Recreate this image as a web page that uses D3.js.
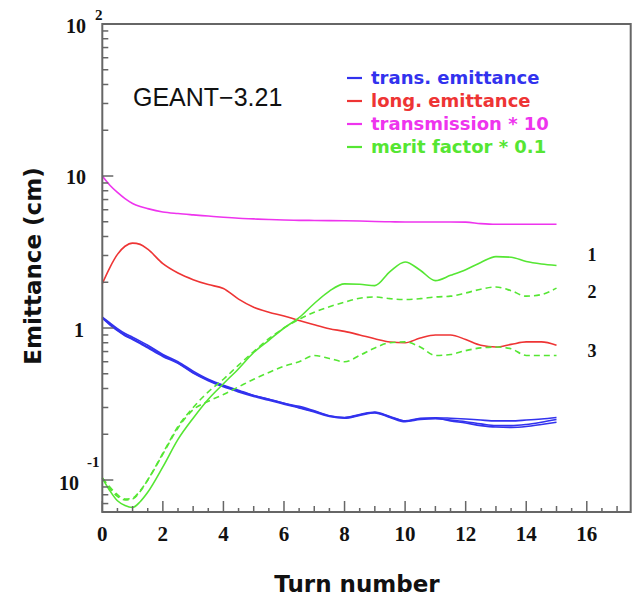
<!DOCTYPE html>
<html>
<head>
<meta charset="utf-8">
<script src="https://cdn.jsdelivr.net/npm/d3@7"></script>
<style>
  html, body { margin: 0; padding: 0; background: #fff; }
  svg { display: block; }
</style>
</head>
<body>
<svg id="chart" width="636" height="603"></svg>
<script>
// Turn numbers at which each quantity is sampled
const turns = [0, 0.25, 0.5, 0.75, 1, 1.25, 1.5, 2, 2.5, 3, 3.5, 4, 4.5, 5, 5.5, 6, 6.5, 7, 7.5, 8,
               8.5, 9, 9.5, 10, 10.5, 11, 11.5, 12, 12.5, 13, 13.5, 14, 14.5, 15];

// transverse emittance (cm), three runs
const transEmit1 = [1.18, 1.08, 0.99, 0.92, 0.87, 0.82, 0.77, 0.67, 0.6, 0.52, 0.46, 0.42, 0.39, 0.36, 0.34, 0.32,
                    0.305, 0.285, 0.265, 0.258, 0.27, 0.28, 0.262, 0.245, 0.255, 0.257, 0.255, 0.252, 0.248, 0.245, 0.245, 0.248, 0.252, 0.258];
const transEmit2 = [1.17, 1.06, 0.97, 0.9, 0.85, 0.8, 0.75, 0.66, 0.59, 0.51, 0.455, 0.415, 0.385, 0.36, 0.34, 0.32,
                    0.3, 0.283, 0.264, 0.257, 0.268, 0.278, 0.26, 0.244, 0.253, 0.255, 0.245, 0.237, 0.228, 0.223, 0.222, 0.225, 0.232, 0.24];
const transEmit3 = [1.16, 1.05, 0.96, 0.89, 0.84, 0.79, 0.74, 0.65, 0.585, 0.505, 0.45, 0.41, 0.38, 0.355, 0.335, 0.315,
                    0.298, 0.28, 0.262, 0.255, 0.266, 0.276, 0.258, 0.242, 0.25, 0.253, 0.248, 0.242, 0.234, 0.228, 0.228, 0.232, 0.24, 0.25];

// longitudinal emittance (cm)
const longEmit = [1.96, 2.5, 3.05, 3.45, 3.62, 3.55, 3.3, 2.65, 2.3, 2.08, 1.93, 1.82, 1.55, 1.37, 1.27, 1.2,
                  1.12, 1.05, 0.99, 0.95, 0.9, 0.85, 0.81, 0.8, 0.86, 0.9, 0.9, 0.84, 0.77, 0.75, 0.78, 0.81, 0.81, 0.77];

// transmission * 10
const transmission = [10, 8.7, 7.8, 7.1, 6.6, 6.3, 6.1, 5.8, 5.66, 5.55, 5.45, 5.35, 5.27, 5.22, 5.17, 5.13,
                      5.11, 5.1, 5.09, 5.08, 5.06, 5.02, 5.0, 4.98, 4.98, 4.98, 4.98, 4.97, 4.86, 4.81, 4.81, 4.81, 4.81, 4.81];

// merit factor * 0.1, runs 1 (solid), 2 and 3 (dashed)
const merit1 = [0.103, 0.085, 0.073, 0.068, 0.066, 0.072, 0.083, 0.122, 0.185, 0.255, 0.34, 0.43, 0.54, 0.69, 0.83, 1.0,
                1.17, 1.45, 1.75, 1.95, 1.94, 1.9, 2.35, 2.72, 2.4, 2.05, 2.22, 2.42, 2.7, 2.95, 2.92, 2.74, 2.64, 2.58];
const merit2 = [0.103, 0.088, 0.078, 0.074, 0.075, 0.084, 0.1, 0.15, 0.225, 0.3, 0.38, 0.46, 0.57, 0.7, 0.85, 1.0,
                1.14, 1.27, 1.38, 1.48, 1.57, 1.6, 1.56, 1.54, 1.56, 1.6, 1.62, 1.7, 1.8, 1.86, 1.76, 1.62, 1.66, 1.83];
const merit3 = [0.103, 0.09, 0.08, 0.075, 0.076, 0.085, 0.1, 0.148, 0.22, 0.29, 0.33, 0.365, 0.41, 0.46, 0.51, 0.56,
                0.6, 0.66, 0.63, 0.6, 0.66, 0.74, 0.8, 0.81, 0.75, 0.66, 0.67, 0.71, 0.74, 0.75, 0.73, 0.66, 0.66, 0.66];

const legendLabels = ["trans. emittance", "long. emittance", "transmission * 10", "merit factor * 0.1"];
const legendColors = ["#3232ee", "#ee3434", "#ee34ee", "#55e633"];
const xTickLabels = [0, 2, 4, 6, 8, 10, 12, 14, 16];
const runLabels = ["1", "2", "3"];

const svg = d3.select("#chart");
const frameL = 102.3, frameR = 630.7, frameT = 24, frameB = 512;

const x = d3.scaleLinear().domain([0, 17.45]).range([frameL, frameR]);
const y = d3.scaleLog().domain([0.0616, 100]).range([frameB, frameT]);

const line = d3.line()
  .x((d, i) => x(turns[i]))
  .y(d => y(d))
  .curve(d3.curveMonotoneX);

const series = [
  { v: transmission, c: legendColors[2] },
  { v: longEmit, c: legendColors[1] },
  { v: transEmit1, c: legendColors[0] },
  { v: transEmit2, c: legendColors[0] },
  { v: transEmit3, c: legendColors[0] },
  { v: merit1, c: legendColors[3] },
  { v: merit2, c: legendColors[3], dash: "6,4" },
  { v: merit3, c: legendColors[3], dash: "6,4" }
];

const plot = svg.append("g");
series.forEach(s => {
  plot.append("path")
    .attr("d", line(s.v))
    .attr("fill", "none")
    .attr("stroke", s.c)
    .attr("stroke-width", 1.6)
    .attr("stroke-dasharray", s.dash || null);
});

// frame
const axisColor = "#666";
svg.append("rect")
  .attr("x", frameL).attr("y", frameT)
  .attr("width", frameR - frameL).attr("height", frameB - frameT)
  .attr("fill", "none").attr("stroke", axisColor).attr("stroke-width", 2);

// x ticks (inward)
const xt = svg.append("g").attr("stroke", axisColor).attr("stroke-width", 1.5);
d3.range(0, 17.5, 0.5).forEach(t => {
  const len = (t % 2 === 0) ? 11 : (t % 1 === 0 ? 6 : 4);
  xt.append("line").attr("x1", x(t)).attr("x2", x(t)).attr("y1", frameB).attr("y2", frameB - len);
});
svg.append("g").selectAll("text").data(xTickLabels).join("text")
  .attr("x", d => x(d)).attr("y", 541)
  .attr("text-anchor", "middle")
  .attr("font-family", "Liberation Serif").attr("font-weight", "bold").attr("font-size", 21)
  .attr("fill", "#111")
  .text(d => d);

// y ticks (inward, log)
const yt = svg.append("g").attr("stroke", axisColor).attr("stroke-width", 1.5);
[0.01, 0.1, 1, 10].forEach(dec => {
  d3.range(1, 10).forEach(m => {
    const v = dec * m;
    if (v < 0.0616 || v > 100) return;
    const len = m === 1 ? 11 : 6;
    yt.append("line").attr("x1", frameL).attr("x2", frameL + len).attr("y1", y(v)).attr("y2", y(v));
  });
});

function txt(g, s, xx, yy, size, anchor) {
  return g.append("text").attr("x", xx).attr("y", yy).attr("font-size", size)
    .attr("text-anchor", anchor || "start")
    .attr("font-family", "Liberation Serif").attr("font-weight", "bold").attr("fill", "#111")
    .text(s);
}
const yl = svg.append("g");
txt(yl, "10", 86, y(100) + 9, 20, "end");
txt(yl, "2", 95, y(100) - 4, 15, "start");
txt(yl, "10", 86, y(10) + 8, 20, "end");
txt(yl, "1", 84, y(1) + 9, 20, "end");
txt(yl, "10", 79, y(0.1) + 10, 20, "end");
txt(yl, "-1", 87, y(0.1) - 13, 15, "start");

// run labels at the right end of the merit curves
txt(svg, runLabels[0], 592, 261, 18, "middle");
txt(svg, runLabels[1], 592, 298, 18, "middle");
txt(svg, runLabels[2], 592, 357, 18, "middle");

// axis titles
svg.append("text")
  .attr("x", 357).attr("y", 592)
  .attr("text-anchor", "middle")
  .attr("font-family", "DejaVu Sans").attr("font-weight", "bold").attr("font-size", 23)
  .attr("fill", "#111")
  .text("Turn number");
svg.append("text")
  .attr("transform", "translate(41,266) rotate(-90)")
  .attr("text-anchor", "middle")
  .attr("font-family", "DejaVu Sans").attr("font-weight", "bold").attr("font-size", 23)
  .attr("fill", "#111")
  .text("Emittance (cm)");

// program label
svg.append("text")
  .attr("x", 133).attr("y", 106)
  .attr("font-family", "Liberation Sans").attr("font-size", 25)
  .attr("fill", "#111")
  .text("GEANT\u22123.21");

// legend
const lg = svg.append("g");
legendLabels.forEach((lab, i) => {
  const yy = 78 + i * 23;
  lg.append("line").attr("x1", 347).attr("x2", 362).attr("y1", yy).attr("y2", yy)
    .attr("stroke", legendColors[i]).attr("stroke-width", 2.2);
  lg.append("text").attr("x", 371).attr("y", yy + 6)
    .attr("font-family", "DejaVu Sans").attr("font-weight", "bold").attr("font-size", 18)
    .attr("fill", legendColors[i])
    .text(lab);
});
</script>
</body>
</html>
